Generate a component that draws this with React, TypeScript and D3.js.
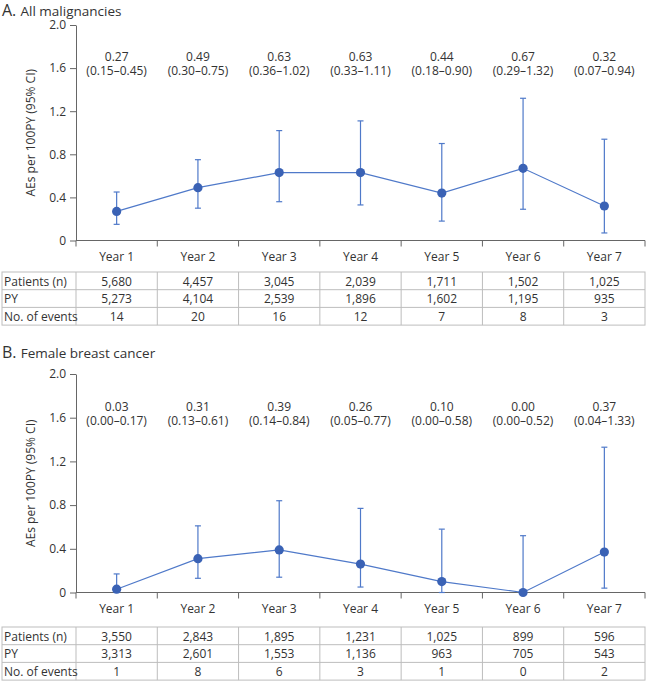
import React, { useEffect, useRef } from "react";
import * as d3 from "d3";

// categories + tick labels
const years = ["Year 1", "Year 2", "Year 3", "Year 4", "Year 5", "Year 6", "Year 7"];
const yTicks = [0, 0.4, 0.8, 1.2, 1.6, 2.0];
const rowLabels = ["Patients (n)", "PY", "No. of events"];

// panel A - all malignancies
const rateA = [0.27, 0.49, 0.63, 0.63, 0.44, 0.67, 0.32];
const lowA = [0.15, 0.3, 0.36, 0.33, 0.18, 0.29, 0.07];
const highA = [0.45, 0.75, 1.02, 1.11, 0.9, 1.32, 0.94];
const patientsA = ["5,680", "4,457", "3,045", "2,039", "1,711", "1,502", "1,025"];
const pyA = ["5,273", "4,104", "2,539", "1,896", "1,602", "1,195", "935"];
const eventsA = ["14", "20", "16", "12", "7", "8", "3"];

// panel B - female breast cancer
const rateB = [0.03, 0.31, 0.39, 0.26, 0.1, 0.0, 0.37];
const lowB = [0.0, 0.13, 0.14, 0.05, 0.0, 0.0, 0.04];
const highB = [0.17, 0.61, 0.84, 0.77, 0.58, 0.52, 1.33];
const patientsB = ["3,550", "2,843", "1,895", "1,231", "1,025", "899", "596"];
const pyB = ["3,313", "2,601", "1,553", "1,136", "963", "705", "543"];
const eventsB = ["1", "8", "6", "3", "1", "0", "2"];

const FONT = "'Open Sans', 'Noto Sans', sans-serif";
const TEXT = "#333";
const AXIS = "#666";
const LINE = "#4f79c9";
const DOT = "#3a62b5";
const GRID = "#bdbdbd";

function drawPanel(svg, p) {
  const left = 76;
  const right = 645;
  const { plotTop, plotBottom, titleY, tableTop, rate, low, high, rows } = p;

  const g = svg.append("g").style("font-family", FONT);

  g.append("text")
    .attr("x", 2)
    .attr("y", titleY)
    .attr("fill", TEXT)
    .call((t) => {
      t.append("tspan").attr("font-size", 16).text(p.letter + ". ");
      t.append("tspan").attr("font-size", 13.5).text(p.title);
    });

  const x = d3.scaleBand().domain(d3.range(years.length)).range([left, right]);
  const y = d3.scaleLinear().domain([0, 2]).range([plotBottom, plotTop]);

  // y axis
  const yAxis = g
    .append("g")
    .attr("transform", `translate(${left},0)`)
    .call(
      d3
        .axisLeft(y)
        .tickValues(yTicks)
        .tickSize(6)
        .tickPadding(4)
        .tickSizeOuter(0)
        .tickFormat((d) => (d === 0 ? "0" : d3.format(".1f")(d)))
    );
  yAxis.select(".domain").attr("stroke", AXIS);
  yAxis.selectAll("line").attr("stroke", AXIS);
  yAxis.selectAll("text").attr("fill", TEXT).style("font-size", "12px").style("font-family", FONT);

  // x axis - ticks at band edges
  const xAxis = g.append("g").attr("transform", `translate(0,${plotBottom})`);
  xAxis.append("line").attr("x1", left).attr("x2", right).attr("stroke", AXIS);
  xAxis
    .selectAll("line.tk")
    .data(d3.range(years.length + 1))
    .join("line")
    .attr("class", "tk")
    .attr("x1", (i) => (i < years.length ? x(i) : right))
    .attr("x2", (i) => (i < years.length ? x(i) : right))
    .attr("y1", 0)
    .attr("y2", 6)
    .attr("stroke", AXIS);
  xAxis
    .selectAll("text")
    .data(years)
    .join("text")
    .attr("x", (d, i) => x(i) + x.bandwidth() / 2)
    .attr("y", 20)
    .attr("text-anchor", "middle")
    .attr("fill", TEXT)
    .style("font-size", "12px")
    .text((d) => d);

  y.clamp(true);
  const cx = (i) => x(i) + x.bandwidth() / 2;

  // error bars
  const eb = g.append("g").attr("stroke", LINE).attr("stroke-width", 1.2);
  rate.forEach((r, i) => {
    eb.append("line").attr("x1", cx(i)).attr("x2", cx(i)).attr("y1", y(low[i])).attr("y2", y(high[i]));
    [low[i], high[i]].forEach((v) => {
      eb.append("line")
        .attr("x1", cx(i) - 3)
        .attr("x2", cx(i) + 3)
        .attr("y1", y(v))
        .attr("y2", y(v));
    });
  });

  // connecting line
  g.append("path")
    .datum(rate)
    .attr("fill", "none")
    .attr("stroke", LINE)
    .attr("stroke-width", 1.2)
    .attr("d", d3.line().x((d, i) => cx(i)).y((d) => y(d)));

  g.append("g")
    .selectAll("circle")
    .data(rate)
    .join("circle")
    .attr("cx", (d, i) => cx(i))
    .attr("cy", (d) => y(d))
    .attr("r", 4.6)
    .attr("fill", DOT);

  // value annotations, sitting around the 1.6 gridline
  const ann = g.append("g").attr("fill", TEXT).attr("text-anchor", "middle").style("font-size", "12px");
  rate.forEach((r, i) => {
    ann.append("text").attr("x", cx(i)).attr("y", y(1.6) - 7).text(r.toFixed(2));
    ann
      .append("text")
      .attr("x", cx(i))
      .attr("y", y(1.6) + 7)
      .text(`(${low[i].toFixed(2)}\u2013${high[i].toFixed(2)})`);
  });

  // table
  const rowH = 17.7;
  const tg = g.append("g");
  tg.append("rect")
    .attr("x", 2)
    .attr("y", tableTop)
    .attr("width", right - 2)
    .attr("height", rowH * rows.length)
    .attr("fill", "none")
    .attr("stroke", GRID);
  d3.range(1, rows.length).forEach((r) => {
    tg.append("line")
      .attr("x1", 2)
      .attr("x2", right)
      .attr("y1", tableTop + r * rowH)
      .attr("y2", tableTop + r * rowH)
      .attr("stroke", GRID);
  });
  d3.range(years.length).forEach((i) => {
    tg.append("line")
      .attr("x1", x(i))
      .attr("x2", x(i))
      .attr("y1", tableTop)
      .attr("y2", tableTop + rowH * rows.length)
      .attr("stroke", GRID);
  });
  rows.forEach((row, r) => {
    tg.append("text")
      .attr("x", 4)
      .attr("y", tableTop + r * rowH + 13.5)
      .attr("fill", TEXT)
      .style("font-size", "12px")
      .text(rowLabels[r]);
    row.forEach((v, i) => {
      tg.append("text")
        .attr("x", cx(i))
        .attr("y", tableTop + r * rowH + 13.5)
        .attr("text-anchor", "middle")
        .attr("fill", TEXT)
        .style("font-size", "12px")
        .text(v);
    });
  });

  // y label
  g.append("text")
    .attr("transform", `translate(35,${(plotTop + plotBottom) / 2}) rotate(-90)`)
    .attr("text-anchor", "middle")
    .attr("fill", TEXT)
    .style("font-size", "12px")
    .text("AEs per 100PY (95% CI)");
}

const App = () => {
  const ref = useRef(null);
  useEffect(() => {
    const svg = d3.select(ref.current);
    svg.selectAll("*").remove();
    drawPanel(svg, {
      letter: "A",
      title: "All malignancies",
      titleY: 16,
      plotTop: 25,
      plotBottom: 240.5,
      tableTop: 272,
      rate: rateA,
      low: lowA,
      high: highA,
      rows: [patientsA, pyA, eventsA],
    });
    drawPanel(svg, {
      letter: "B",
      title: "Female breast cancer",
      titleY: 358,
      plotTop: 374,
      plotBottom: 592.5,
      tableTop: 627,
      rate: rateB,
      low: lowB,
      high: highB,
      rows: [patientsB, pyB, eventsB],
    });
  }, []);

  return (
    <div style={{ position: "absolute", left: 0, top: 0 }}>
      <svg ref={ref} width={648} height={682} style={{ display: "block", background: "#fff" }} />
    </div>
  );
};

export default App;
